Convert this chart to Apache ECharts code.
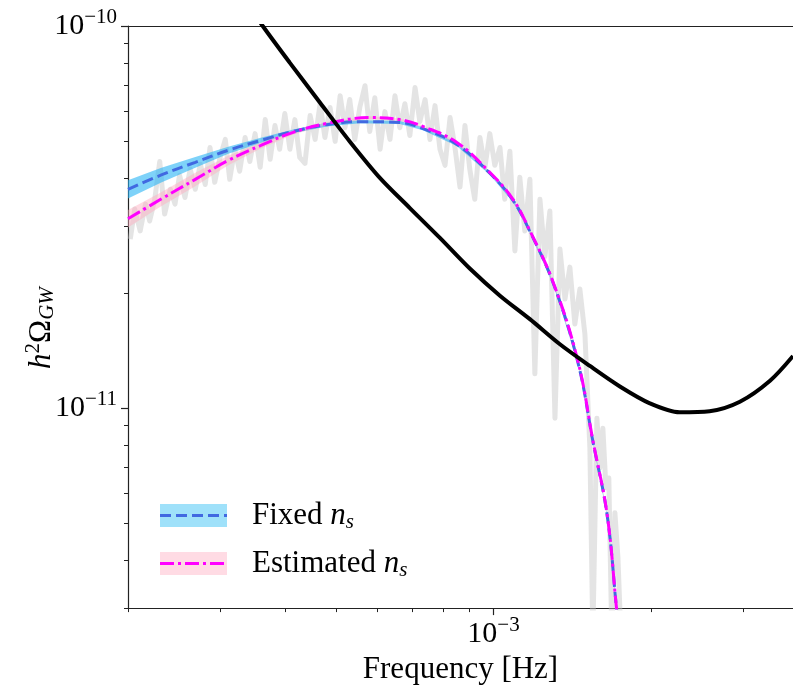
<!DOCTYPE html>
<html>
<head>
<meta charset="utf-8">
<script src="https://cdn.jsdelivr.net/npm/echarts@6.0.0/dist/echarts.min.js"></script>
<style>
  html, body { margin: 0; padding: 0; background: #fff; }
  #chart { width: 793px; height: 690px; }
</style>
</head>
<body>
<div id="chart"></div>
<script>
// ---- data ----
const SERIF = "'Liberation Serif', 'DejaVu Serif', serif";

// noisy simulated spectrum (grey)
const grayFreq = [2.02e-4, 2.06e-4, 2.11e-4, 2.16e-4, 2.20e-4, 2.25e-4, 2.30e-4, 2.35e-4, 2.41e-4, 2.46e-4,
  2.51e-4, 2.57e-4, 2.63e-4, 2.69e-4, 2.75e-4, 2.81e-4, 2.87e-4, 2.93e-4, 3.00e-4, 3.07e-4,
  3.13e-4, 3.20e-4, 3.27e-4, 3.35e-4, 3.42e-4, 3.50e-4, 3.58e-4, 3.66e-4, 3.74e-4, 3.82e-4,
  3.90e-4, 3.99e-4, 4.08e-4, 4.17e-4, 4.26e-4, 4.36e-4, 4.46e-4, 4.56e-4, 4.66e-4, 4.76e-4,
  4.87e-4, 4.98e-4, 5.09e-4, 5.20e-4, 5.31e-4, 5.43e-4, 5.55e-4, 5.68e-4, 5.80e-4, 5.93e-4,
  6.07e-4, 6.20e-4, 6.34e-4, 6.48e-4, 6.62e-4, 6.77e-4, 6.92e-4, 7.08e-4, 7.23e-4, 7.40e-4,
  7.56e-4, 7.73e-4, 7.90e-4, 8.08e-4, 8.26e-4, 8.44e-4, 8.63e-4, 8.82e-4, 9.01e-4, 9.21e-4,
  9.42e-4, 9.63e-4, 9.84e-4, 1.006e-3, 1.029e-3, 1.051e-3, 1.075e-3, 1.099e-3, 1.123e-3, 1.148e-3,
  1.174e-3, 1.200e-3, 1.227e-3, 1.254e-3, 1.282e-3, 1.311e-3, 1.340e-3, 1.370e-3, 1.400e-3, 1.431e-3,
  1.463e-3, 1.496e-3, 1.529e-3, 1.549e-3, 1.577e-3, 1.598e-3, 1.619e-3, 1.641e-3, 1.662e-3, 1.684e-3,
  1.707e-3, 1.730e-3, 1.753e-3];
const grayVal = [2.77e-11, 3.32e-11, 2.91e-11, 3.42e-11, 3.09e-11, 3.52e-11, 4.42e-11, 3.22e-11, 3.74e-11, 3.42e-11,
  4.07e-11, 3.56e-11, 4.22e-11, 3.74e-11, 4.35e-11, 3.85e-11, 4.81e-11, 3.90e-11, 4.53e-11, 5.05e-11,
  3.97e-11, 4.76e-11, 4.17e-11, 5.11e-11, 4.42e-11, 5.23e-11, 4.27e-11, 5.69e-11, 4.48e-11, 5.49e-11,
  4.76e-11, 5.90e-11, 4.76e-11, 5.69e-11, 4.53e-11, 4.37e-11, 5.83e-11, 5.05e-11, 6.26e-11, 5.11e-11,
  6.12e-11, 4.99e-11, 6.57e-11, 5.42e-11, 6.42e-11, 5.05e-11, 6.12e-11, 6.98e-11, 5.30e-11, 6.49e-11,
  4.76e-11, 5.97e-11, 5.05e-11, 6.57e-11, 5.42e-11, 6.26e-11, 5.17e-11, 6.90e-11, 5.62e-11, 6.42e-11,
  5.05e-11, 6.19e-11, 4.76e-11, 4.32e-11, 5.76e-11, 4.81e-11, 3.79e-11, 5.49e-11, 4.22e-11, 3.52e-11,
  5.11e-11, 4.27e-11, 5.23e-11, 4.32e-11, 4.81e-11, 3.52e-11, 4.70e-11, 2.58e-11, 4.02e-11, 2.91e-11,
  3.97e-11, 1.23e-11, 3.52e-11, 2.49e-11, 3.28e-11, 9.42e-12, 2.61e-11, 1.93e-11, 2.34e-11, 1.66e-11,
  2.05e-11, 1.56e-11, 7.87e-12, 2.52e-12, 9.42e-12, 6.98e-12, 8.87e-12, 6.19e-12, 6.57e-12, 2.52e-12,
  5.33e-12, 4.07e-12, 2.52e-12];

// fixed n_s reconstruction: median and band
const fixedFreq = [2.00e-4, 2.31e-4, 2.69e-4, 3.11e-4, 3.59e-4, 4.14e-4, 4.80e-4, 5.55e-4, 6.62e-4, 7.33e-4,
  8.51e-4, 9.84e-4, 1.09e-3, 1.17e-3, 1.30e-3, 1.45e-3, 1.55e-3, 1.65e-3, 1.72e-3, 1.76e-3];
const fixedVal = [3.74e-11, 4.07e-11, 4.40e-11, 4.73e-11, 5.02e-11, 5.30e-11, 5.52e-11, 5.62e-11, 5.59e-11, 5.39e-11,
  4.90e-11, 4.12e-11, 3.50e-11, 2.93e-11, 2.13e-11, 1.32e-11, 8.17e-12, 5.24e-12, 2.98e-12, 2.23e-12];
const fixedHi = [3.95e-11, 4.25e-11, 4.54e-11, 4.83e-11, 5.10e-11, 5.36e-11, 5.58e-11, 5.67e-11, 5.64e-11, 5.44e-11,
  4.95e-11, 4.16e-11, 3.54e-11, 2.96e-11, 2.15e-11, 1.33e-11, 8.25e-12, 5.29e-12, 3.01e-12, 2.25e-12];
const fixedLo = [3.54e-11, 3.89e-11, 4.26e-11, 4.63e-11, 4.94e-11, 5.24e-11, 5.46e-11, 5.57e-11, 5.54e-11, 5.34e-11,
  4.85e-11, 4.08e-11, 3.46e-11, 2.90e-11, 2.11e-11, 1.31e-11, 8.09e-12, 5.19e-12, 2.95e-12, 2.21e-12];

// estimated n_s reconstruction
const estFreq = [2.00e-4, 2.31e-4, 2.69e-4, 3.11e-4, 3.59e-4, 4.14e-4, 4.80e-4, 5.80e-4, 6.62e-4, 7.33e-4,
  8.51e-4, 9.84e-4, 1.09e-3, 1.17e-3, 1.30e-3, 1.45e-3, 1.55e-3, 1.65e-3, 1.72e-3, 1.76e-3];
const estVal = [3.13e-11, 3.52e-11, 3.97e-11, 4.45e-11, 4.87e-11, 5.27e-11, 5.56e-11, 5.76e-11, 5.69e-11, 5.46e-11,
  4.96e-11, 4.14e-11, 3.52e-11, 2.94e-11, 2.14e-11, 1.33e-11, 8.21e-12, 5.26e-12, 2.98e-12, 2.23e-12];
const estHi = [3.30e-11, 3.67e-11, 4.13e-11, 4.58e-11, 4.96e-11, 5.34e-11, 5.61e-11, 5.81e-11, 5.73e-11, 5.50e-11,
  5.00e-11, 4.17e-11, 3.55e-11, 2.97e-11, 2.16e-11, 1.34e-11, 8.28e-12, 5.30e-12, 3.00e-12, 2.25e-12];
const estLo = [2.97e-11, 3.37e-11, 3.81e-11, 4.32e-11, 4.78e-11, 5.20e-11, 5.51e-11, 5.71e-11, 5.65e-11, 5.42e-11,
  4.92e-11, 4.11e-11, 3.49e-11, 2.91e-11, 2.12e-11, 1.32e-11, 8.14e-12, 5.22e-12, 2.96e-12, 2.21e-12];

// sensitivity curve (black)
const sensFreq = [3.35e-4, 3.62e-4, 4.08e-4, 4.66e-4, 5.31e-4, 6.07e-4, 6.92e-4, 7.90e-4, 9.01e-4, 1.029e-3,
  1.174e-3, 1.340e-3, 1.529e-3, 1.745e-3, 1.991e-3, 2.27e-3, 2.59e-3, 2.96e-3, 3.38e-3, 3.74e-3];
const sensVal = [1.169e-10, 1.0e-10, 8.01e-11, 6.30e-11, 4.99e-11, 4.00e-11, 3.34e-11, 2.79e-11, 2.32e-11, 1.97e-11,
  1.71e-11, 1.47e-11, 1.29e-11, 1.14e-11, 1.03e-11, 9.76e-12, 9.82e-12, 1.04e-11, 1.18e-11, 1.37e-11];

// ticks
const xMajorTicks = [1e-3];
const xMinorTicks = [2e-4, 3e-4, 4e-4, 5e-4, 6e-4, 7e-4, 8e-4, 9e-4, 2e-3, 3e-3];
const yMajorTicks = [1e-11, 1e-10];
const yMinorTicks = [3e-12, 4e-12, 5e-12, 6e-12, 7e-12, 8e-12, 9e-12,
  2e-11, 3e-11, 4e-11, 5e-11, 6e-11, 7e-11, 8e-11, 9e-11];

const xRange = [2e-4, 3.74e-3];
const yRange = [3e-12, 1e-10];

// ---- helpers ----
const pairs = (xs, ys) => xs.map((x, i) => [x, ys[i]]);
const powLabel = v => '{b|10}{s|\u2212' + Math.abs(Math.round(Math.log10(v))) + '}';
const powRich = {
  b: { fontFamily: SERIF, fontSize: 30, color: '#000' },
  s: { fontFamily: SERIF, fontSize: 21, color: '#000', padding: [0, 0, 17, 0] }
};

function bandItem(xs, lo, hi, fill) {
  return (params, api) => {
    const pts = [];
    for (let i = 0; i < xs.length; i++) pts.push(api.coord([xs[i], hi[i]]));
    for (let i = xs.length - 1; i >= 0; i--) pts.push(api.coord([xs[i], lo[i]]));
    return { type: 'polygon', shape: { points: pts }, style: { fill: fill } };
  };
}

const logAxis = (extra, range) => Object.assign({
  type: 'log', logBase: 10, min: range[0], max: range[1],
  splitLine: { show: false }, minorTick: { show: false }
}, extra);

const legendRich = {
  r: { fontFamily: SERIF, fontSize: 31, fill: '#000' },
  i: { fontFamily: SERIF, fontStyle: 'italic', fontSize: 31, fill: '#000' },
  sub: { fontFamily: SERIF, fontStyle: 'italic', fontSize: 21, fill: '#000', padding: [12, 0, 0, 0] }
};

const chart = echarts.init(document.getElementById('chart'), null, { renderer: 'canvas' });

chart.setOption({
  animation: false,
  backgroundColor: '#fff',
  grid: { left: 128, right: 0, top: 26, bottom: 79 },
  xAxis: [
    logAxis({
      position: 'bottom',
      name: 'Frequency [Hz]', nameLocation: 'middle', nameGap: 35,
      nameTextStyle: { fontFamily: SERIF, fontSize: 31, color: '#000' },
      axisLine: { onZero: false, lineStyle: { color: '#222', width: 1.2 } },
      axisTick: { customValues: xMajorTicks, length: 7, lineStyle: { color: '#222', width: 1.2 } },
      axisLabel: { customValues: xMajorTicks, margin: 7, formatter: powLabel, rich: powRich }
    }, xRange),
    logAxis({
      position: 'bottom',
      axisLine: { show: false, onZero: false },
      axisTick: { customValues: xMinorTicks, length: 4, lineStyle: { color: '#222', width: 1 } },
      axisLabel: { show: false }
    }, xRange),
    logAxis({
      position: 'top',
      axisLine: { onZero: false, lineStyle: { color: '#222', width: 1.2 } },
      axisTick: { show: false },
      axisLabel: { show: false }
    }, xRange)
  ],
  yAxis: [
    logAxis({
      position: 'left',
      name: '{i|h}{sup|2}{g|\u03A9}{sub|GW}', nameLocation: 'middle', nameGap: 68,
      nameMoveOverlap: false,
      nameTextStyle: {
        padding: [0, 22, 0, 0],
        rich: {
          i: { fontFamily: SERIF, fontStyle: 'italic', fontSize: 31, color: '#000' },
          sup: { fontFamily: SERIF, fontSize: 21, color: '#000', padding: [0, 0, 16, 0] },
          g: { fontFamily: SERIF, fontSize: 31, color: '#000' },
          sub: { fontFamily: SERIF, fontStyle: 'italic', fontSize: 21, color: '#000', padding: [12, 0, 0, 0] }
        }
      },
      axisLine: { onZero: false, lineStyle: { color: '#222', width: 1.2 } },
      axisTick: { customValues: yMajorTicks, length: 7, lineStyle: { color: '#222', width: 1.2 } },
      axisLabel: { customValues: yMajorTicks, margin: 11, formatter: powLabel, rich: powRich }
    }, yRange),
    logAxis({
      position: 'left',
      axisLine: { show: false, onZero: false },
      axisTick: { customValues: yMinorTicks, length: 4, lineStyle: { color: '#222', width: 1 } },
      axisLabel: { show: false }
    }, yRange)
  ],
  series: [
    {
      name: 'data', type: 'line', data: pairs(grayFreq, grayVal),
      showSymbol: false, silent: true, z: 1,
      lineStyle: { color: 'rgba(195,195,195,0.45)', width: 5, join: 'round' }
    },
    {
      name: 'Fixed band', type: 'custom', clip: true, z: 2, silent: true,
      data: [[fixedFreq[0], fixedVal[0]]],
      renderItem: bandItem(fixedFreq, fixedLo, fixedHi, 'rgba(40,180,245,0.6)')
    },
    {
      name: 'Estimated band', type: 'custom', clip: true, z: 2, silent: true,
      data: [[estFreq[0], estVal[0]]],
      renderItem: bandItem(estFreq, estLo, estHi, 'rgba(255,170,190,0.45)')
    },
    {
      name: 'Fixed n_s', type: 'line', data: pairs(fixedFreq, fixedVal),
      smooth: 0.4, showSymbol: false, z: 3,
      lineStyle: { color: '#4169e1', width: 3, type: [11, 5] }
    },
    {
      name: 'Estimated n_s', type: 'line', data: pairs(estFreq, estVal),
      smooth: 0.4, showSymbol: false, z: 4,
      lineStyle: { color: '#ff00ff', width: 3, type: [14, 4, 3, 4] }
    },
    {
      name: 'Sensitivity', type: 'line', data: pairs(sensFreq, sensVal),
      smooth: 0.3, showSymbol: false, z: 5,
      lineStyle: { color: '#000', width: 4 }
    }
  ],
  graphic: [
    { type: 'rect', shape: { x: 160, y: 504, width: 67, height: 23 }, style: { fill: '#9fe1fa' }, z: 10 },
    { type: 'line', shape: { x1: 160, y1: 515.5, x2: 227, y2: 515.5 }, style: { stroke: '#4169e1', lineWidth: 3, lineDash: [11, 5] }, z: 11 },
    { type: 'rect', shape: { x: 160, y: 552, width: 67, height: 23 }, style: { fill: '#ffdbe4' }, z: 10 },
    { type: 'line', shape: { x1: 160, y1: 563.5, x2: 227, y2: 563.5 }, style: { stroke: '#ff00ff', lineWidth: 3, lineDash: [14, 4, 3, 4] }, z: 11 },
    {
      type: 'text', x: 252, y: 516, z: 11,
      style: { text: '{r|Fixed }{i|n}{sub|s}', verticalAlign: 'middle', rich: legendRich }
    },
    {
      type: 'text', x: 252, y: 564, z: 11,
      style: { text: '{r|Estimated }{i|n}{sub|s}', verticalAlign: 'middle', rich: legendRich }
    }
  ]
});
</script>
</body>
</html>
